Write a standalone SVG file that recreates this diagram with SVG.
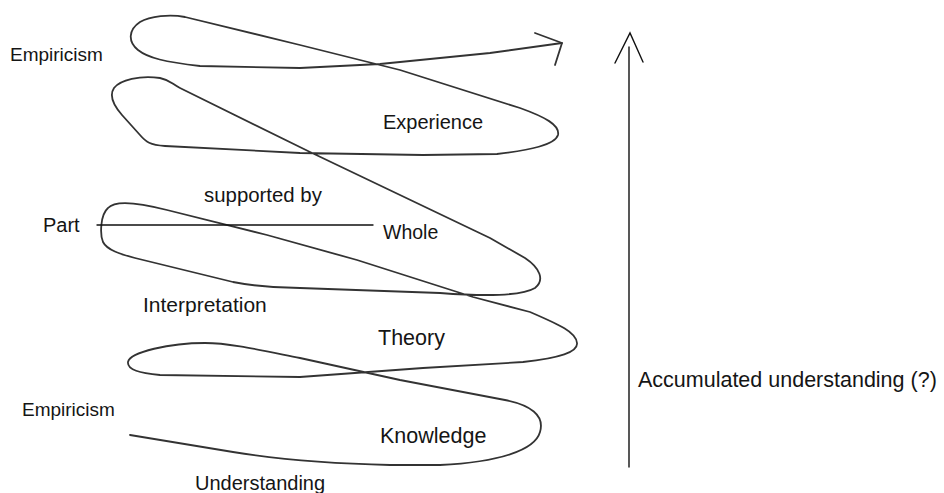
<svg xmlns="http://www.w3.org/2000/svg" width="944" height="493" viewBox="0 0 944 493">
  <style>
    .lbl { font-family: "Liberation Sans", Arial, sans-serif; fill: #151515; }
    .curve { fill: none; stroke: #333; stroke-width: 1.8; stroke-linejoin: round; stroke-linecap: round; }
    .thin { fill: none; stroke: #111; stroke-width: 1.4; stroke-linecap: round; stroke-linejoin: miter; }
  </style>
  <rect width="944" height="493" fill="#ffffff"/>
  <g id="connectors">
    <path id="spiral" class="curve" d="M130,435 L233,452 Q300,463 390,465 L440,465 C500,462 535,450 540,432 C545,415 530,405 505,400 L400,380 L300,358 C260,350 230,343 205,343 C170,343 130,352 128,362 C127,370 140,373 160,375 L300,377 L423,368 L523,362 C560,358 578,352 577,343 C576,332 560,325 530,312 L473,297 L357,260 L267,235 L167,210 C140,203 115,200 108,208 C100,215 100,235 103,242 C107,250 120,254 135,258 L233,282 C260,287 280,288 300,288 L440,293 C480,296 520,297 535,288 C545,280 540,268 525,258 L490,238 L310,152 L180,88 C172,84 170,80 160,78 C140,75 120,80 114,88 C108,97 115,107 122,115 L140,135 C146,142 150,145 165,146 L300,153 L423,155 L497,154 C530,150 555,145 558,135 C560,125 545,117 520,108 L400,70 L300,45 L185,17 C170,14 150,16 140,22 C128,30 128,42 138,50 C148,58 165,62 200,66 L300,68 L380,64 L490,53 L562,43"/>
    <path id="spiral-head" class="curve" d="M535,33 L562,43 L555,65"/>
    <line id="part-whole" class="thin" x1="97" y1="225" x2="373" y2="225"/>
    <line id="accum-shaft" class="thin" x1="629" y1="47" x2="629" y2="467"/>
    <path id="accum-head" class="thin" d="M615,63 L630,33 L643,62"/>
  </g>
  <g id="empiricism-top"><text class="lbl" x="10" y="61" font-size="19">Empiricism</text></g>
  <g id="experience"><text class="lbl" x="383" y="129" font-size="20">Experience</text></g>
  <g id="supported-by"><text class="lbl" x="204" y="202" font-size="20.4">supported by</text></g>
  <g id="part"><text class="lbl" x="43" y="232" font-size="20">Part</text></g>
  <g id="whole"><text class="lbl" x="383" y="239" font-size="19.5">Whole</text></g>
  <g id="interpretation"><text class="lbl" x="143" y="312" font-size="21">Interpretation</text></g>
  <g id="theory"><text class="lbl" x="378" y="345" font-size="21.5">Theory</text></g>
  <g id="empiricism-bottom"><text class="lbl" x="22" y="416" font-size="19">Empiricism</text></g>
  <g id="knowledge"><text class="lbl" x="380" y="443" font-size="21.5">Knowledge</text></g>
  <g id="understanding"><text class="lbl" x="195" y="490" font-size="20">Understanding</text></g>
  <g id="accumulated"><text class="lbl" x="638" y="387" font-size="21.5">Accumulated understanding (?)</text></g>
</svg>
